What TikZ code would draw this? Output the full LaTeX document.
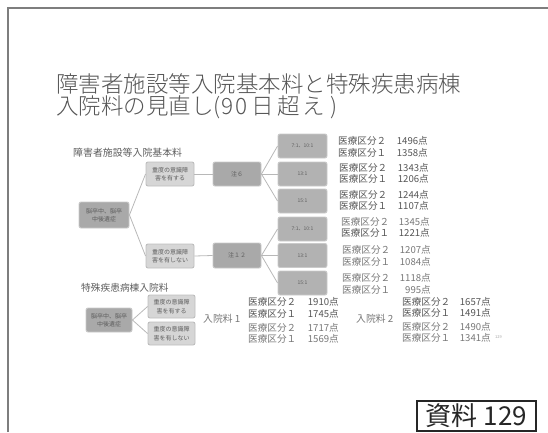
\documentclass[tikz,border=0pt]{standalone}
\usepackage{fontspec}
\setmainfont{Noto Sans CJK JP}
\newfontfamily\lightjp{Noto Sans CJK JP Light}
\definecolor{darkfill}{HTML}{A9A9A9}
\definecolor{darkline}{HTML}{CACACA}
\definecolor{lightfill}{HTML}{D6D6D6}
\definecolor{lightline}{HTML}{BDBDBD}
\definecolor{linkc}{HTML}{B8B8B8}
\definecolor{boxtxt}{HTML}{5E5E5E}
\definecolor{rowtxt}{HTML}{555555}
\definecolor{rowlight}{HTML}{777777}
\definecolor{titlec}{HTML}{555555}
\definecolor{framec}{HTML}{7E7E7E}
\begin{document}
\begin{tikzpicture}[x=1pt,y=-1pt,
  every node/.style={inner sep=0pt},
  bx/.style={rounded corners=2pt, line width=0.9pt, align=center, font=\fontsize{6}{8.5}\selectfont, text=boxtxt},
  darkbx/.style={bx, fill=darkfill, draw=darkline},
  lightbx/.style={bx, fill=lightfill, draw=lightline},
  ratiobx/.style={bx, fill=darkfill!90!white, draw=darkline, minimum width=49pt, minimum height=24pt, font=\fontsize{5}{6}\selectfont},
  link/.style={draw=linkc, line width=0.8pt},
  row/.style={anchor=west, font=\fontsize{9.6}{10}\selectfont, text=rowtxt},
  num/.style={anchor=east, font=\fontsize{9.6}{10}\selectfont, text=rowtxt},
  lrow/.style={row, text=rowlight},
  lnum/.style={num, text=rowlight},
  titletext/.style={anchor=west, text=titlec, font=\lightjp\fontsize{22.5}{24}\selectfont},
]
\useasboundingbox (0,0) rectangle (548,432);
% frame
\coordinate (fa) at (8,432);
\coordinate (fb) at (8,8);
\coordinate (fc) at (548,8);
\draw[framec, line width=1.8pt] (fa) -- (fb) -- (fc);

% title
\node[titletext] (title1) at (56,84) {障害者施設等入院基本料と特殊疾患病棟};
\node[titletext] (title2) at (56,107) {入院料の見直し(\kern1pt9\kern2pt0\kern4pt日\kern3pt超\kern3pt え\kern5pt)};

% upper section
\node[anchor=west, text=boxtxt, font=\fontsize{9.9}{10}\selectfont] (sub1) at (73,153) {障害者施設等入院基本料};
\node[darkbx, minimum width=50pt, minimum height=26pt] (root) at (104,215) {脳卒中、脳卒\\中後遺症};
\node[lightbx, minimum width=48pt, minimum height=24pt] (sev) at (170,174) {重度の意識障\\害を有する};
\node[lightbx, minimum width=48pt, minimum height=24pt] (nsev) at (170,256) {重度の意識障\\害を有しない};
\node[darkbx, minimum width=48pt, minimum height=24pt] (n6) at (237,174) {注６};
\node[darkbx, minimum width=48pt, minimum height=25pt] (n12) at (237,255.5) {注１２};
\node[ratiobx] (r1) at (302.5,146) {7:1、10:1};
\node[ratiobx] (r2) at (302.5,174) {13:1};
\node[ratiobx] (r3) at (302.5,201) {15:1};
\node[ratiobx] (r4) at (302.5,229) {7:1、10:1};
\node[ratiobx] (r5) at (302.5,255.5) {13:1};
\node[ratiobx] (r6) at (302.5,283) {15:1};

\draw[link] (root.east) -- (sev.west);
\draw[link] (root.east) -- (nsev.west);
\draw[link] (sev.east) -- (n6.west);
\draw[link] (nsev.east) -- (n12.west);
\draw[link] (n6.east) -- (r1.west);
\draw[link] (n6.east) -- (r2.west);
\draw[link] (n6.east) -- (r3.west);
\draw[link] (n12.east) -- (r4.west);
\draw[link] (n12.east) -- (r5.west);
\draw[link] (n12.east) -- (r6.west);

% upper rows
\node[row] (a1) at (338,141) {医療区分２};  \node[num] (b1) at (428,141) {1496点};
\node[row] (a2) at (338,153) {医療区分１};  \node[num] (b2) at (428,153) {1358点};
\node[row] (a3) at (339,168) {医療区分２};  \node[num] (b3) at (429,168) {1343点};
\node[row] (a4) at (339,179) {医療区分１};  \node[num] (b4) at (429,179) {1206点};
\node[row] (a5) at (339,195) {医療区分２};  \node[num] (b5) at (429,195) {1244点};
\node[row] (a6) at (339,206) {医療区分１};  \node[num] (b6) at (429,206) {1107点};
\node[lrow] (a7) at (341,222) {医療区分２}; \node[lnum] (b7) at (430,222) {1345点};
\node[row] (a8) at (341,233) {医療区分１};  \node[num] (b8) at (430,233) {1221点};
\node[lrow] (a9) at (342,250) {医療区分２}; \node[lnum] (b9) at (431,250) {1207点};
\node[lrow] (a10) at (342,262) {医療区分１}; \node[lnum] (b10) at (431,262) {1084点};
\node[lrow] (a11) at (342,278) {医療区分２}; \node[lnum] (b11) at (431,278) {1118点};
\node[lrow] (a12) at (342,290) {医療区分１}; \node[lnum] (b12) at (431,290) {995点};

% lower section
\node[anchor=west, text=boxtxt, font=\fontsize{9.7}{10}\selectfont] (sub2) at (81,288) {特殊疾患病棟入院料};
\node[darkbx, minimum width=46pt, minimum height=24pt] (root2) at (109,320) {脳卒中、脳卒\\中後遺症};
\node[lightbx, minimum width=47pt, minimum height=23pt] (s2) at (171.5,306.5) {重度の意識障\\害を有する};
\node[lightbx, minimum width=47pt, minimum height=23pt] (ns2) at (171.5,333.5) {重度の意識障\\害を有しない};
\draw[link] (root2.east) -- (s2.west);
\draw[link] (root2.east) -- (ns2.west);

\node[anchor=west, text=rowlight, font=\fontsize{9.8}{10}\selectfont] (fee1) at (203,319) {入院料 1};
\node[anchor=west, text=rowlight, font=\fontsize{9.8}{10}\selectfont] (fee2) at (356,319) {入院料 2};

\node[row] (c1) at (248,302) {医療区分２};  \node[num] (d1) at (339,302) {1910点};
\node[row] (c2) at (248,314) {医療区分１};  \node[num] (d2) at (339,314) {1745点};
\node[lrow] (c3) at (248,328) {医療区分２}; \node[lnum] (d3) at (339,328) {1717点};
\node[lrow] (c4) at (248,339) {医療区分１}; \node[lnum] (d4) at (339,339) {1569点};

\node[row] (e1) at (402,302) {医療区分２};  \node[num] (f1) at (491,302) {1657点};
\node[row] (e2) at (402,313) {医療区分１};  \node[num] (f2) at (491,313) {1491点};
\node[lrow] (e3) at (402,327) {医療区分２}; \node[lnum] (f3) at (491,327) {1490点};
\node[lrow] (e4) at (402,338) {医療区分１}; \node[lnum] (f4) at (491,338) {1341点};
\node[anchor=west, text=black!35, font=\fontsize{4}{4}\selectfont] (pg) at (495,337) {129};

% reference box
\node[draw=black!85, line width=1.1pt, minimum width=119pt, minimum height=30pt, font=\fontsize{26}{27}\selectfont, text=black!85] (ref) at (476.5,416) {資料 129};
\end{tikzpicture}
\end{document}
